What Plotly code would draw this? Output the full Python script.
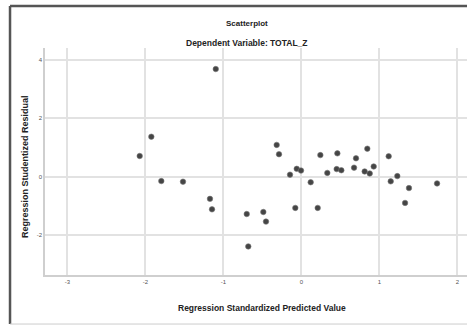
import plotly.graph_objects as go

pred_x = [-1.097, -1.923, -2.072, -1.795, -1.517, -1.171, -1.145, -0.700, -0.680,
          -0.487, -0.453, -0.316, -0.286, -0.145, -0.077, -0.059, -0.004, 0.120,
          0.210, 0.244, 0.333, 0.453, 0.462, 0.513, 0.676, 0.701, 0.812, 0.846,
          0.877, 0.928, 1.120, 1.146, 1.231, 1.330, 1.380, 1.740]
resid_y = [3.69, 1.37, 0.71, -0.15, -0.17, -0.76, -1.12, -1.28, -2.39,
           -1.21, -1.54, 1.09, 0.77, 0.07, -1.07, 0.27, 0.21, -0.19,
           -1.07, 0.74, 0.13, 0.26, 0.80, 0.22, 0.31, 0.63, 0.18, 0.96,
           0.11, 0.35, 0.70, -0.16, 0.02, -0.90, -0.39, -0.23]

x_ticks = [-3, -2, -1, 0, 1, 2]
y_ticks = [-2, 0, 2, 4]

title_text = "Scatterplot"
subtitle_text = "Dependent Variable: TOTAL_Z"
x_title = "Regression Standardized Predicted Value"
y_title = "Regression Studentized Residual"

fig = go.Figure()
fig.add_trace(go.Scatter(
    x=pred_x, y=resid_y, mode="markers",
    marker=dict(size=5.5, color="#454545", line=dict(width=0.6, color="#777777")),
    showlegend=False, hoverinfo="skip"))

font_family = "Liberation Sans, Arial, sans-serif"
grid_c = "#e2e2e2"
axis_c = "#cfcfcf"

fig.update_layout(
    width=467, height=325,
    margin=dict(l=45, r=0, t=48, b=50),
    paper_bgcolor="white", plot_bgcolor="white",
    font=dict(family=font_family, color="#333333"),
    xaxis=dict(range=[-3.286, 2.124], tickvals=x_ticks, ticktext=[str(v) for v in x_ticks],
               showgrid=True, gridcolor=grid_c, gridwidth=1.5, zeroline=False,
               showline=True, linecolor=axis_c, linewidth=1.5,
               tickfont=dict(size=6, color="#555555"), ticks=""),
    yaxis=dict(range=[-3.37, 4.412], tickvals=y_ticks, ticktext=[str(v) for v in y_ticks],
               showgrid=True, gridcolor=grid_c, gridwidth=1.5, zeroline=False,
               showline=True, linecolor=axis_c, linewidth=1.5,
               tickfont=dict(size=6, color="#555555"), ticks=""),
)

ann = [
    dict(text="<b>" + title_text + "</b>", x=0.479, y=1.110, font=dict(size=8, color="#222222")),
    dict(text="<b>" + subtitle_text + "</b>", x=0.479, y=1.022, font=dict(size=8.5, color="#222222")),
    dict(text="<b>" + x_title + "</b>", x=0.515, y=-0.145, font=dict(size=8.5, color="#222222")),
    dict(text="<b>" + y_title + "</b>", x=-0.0474, y=0.480, textangle=-90, font=dict(size=9, color="#222222")),
]
for a in ann:
    fig.add_annotation(xref="paper", yref="paper", showarrow=False,
                       xanchor="center", yanchor="middle", **a)

# Outer frame (SPSS-style chart border): top and left dark, bottom light
fig.add_shape(type="line", xref="paper", yref="paper", x0=-0.0829, x1=1.05, y0=1.185, y1=1.185,
              line=dict(color="#555555", width=2.5), layer="above")
fig.add_shape(type="line", xref="paper", yref="paper", x0=-0.0829, x1=-0.0829, y0=1.185, y1=-0.216,
              line=dict(color="#555555", width=2.5), layer="above")
fig.add_shape(type="line", xref="paper", yref="paper", x0=-0.0829, x1=1.05, y0=-0.216, y1=-0.216,
              line=dict(color="#cccccc", width=1), layer="above")

fig.write_html("out.html", config={"displayModeBar": False},
               post_script="document.documentElement.style.overflow='hidden';document.body.style.margin='0px';document.body.style.overflow='hidden';")
